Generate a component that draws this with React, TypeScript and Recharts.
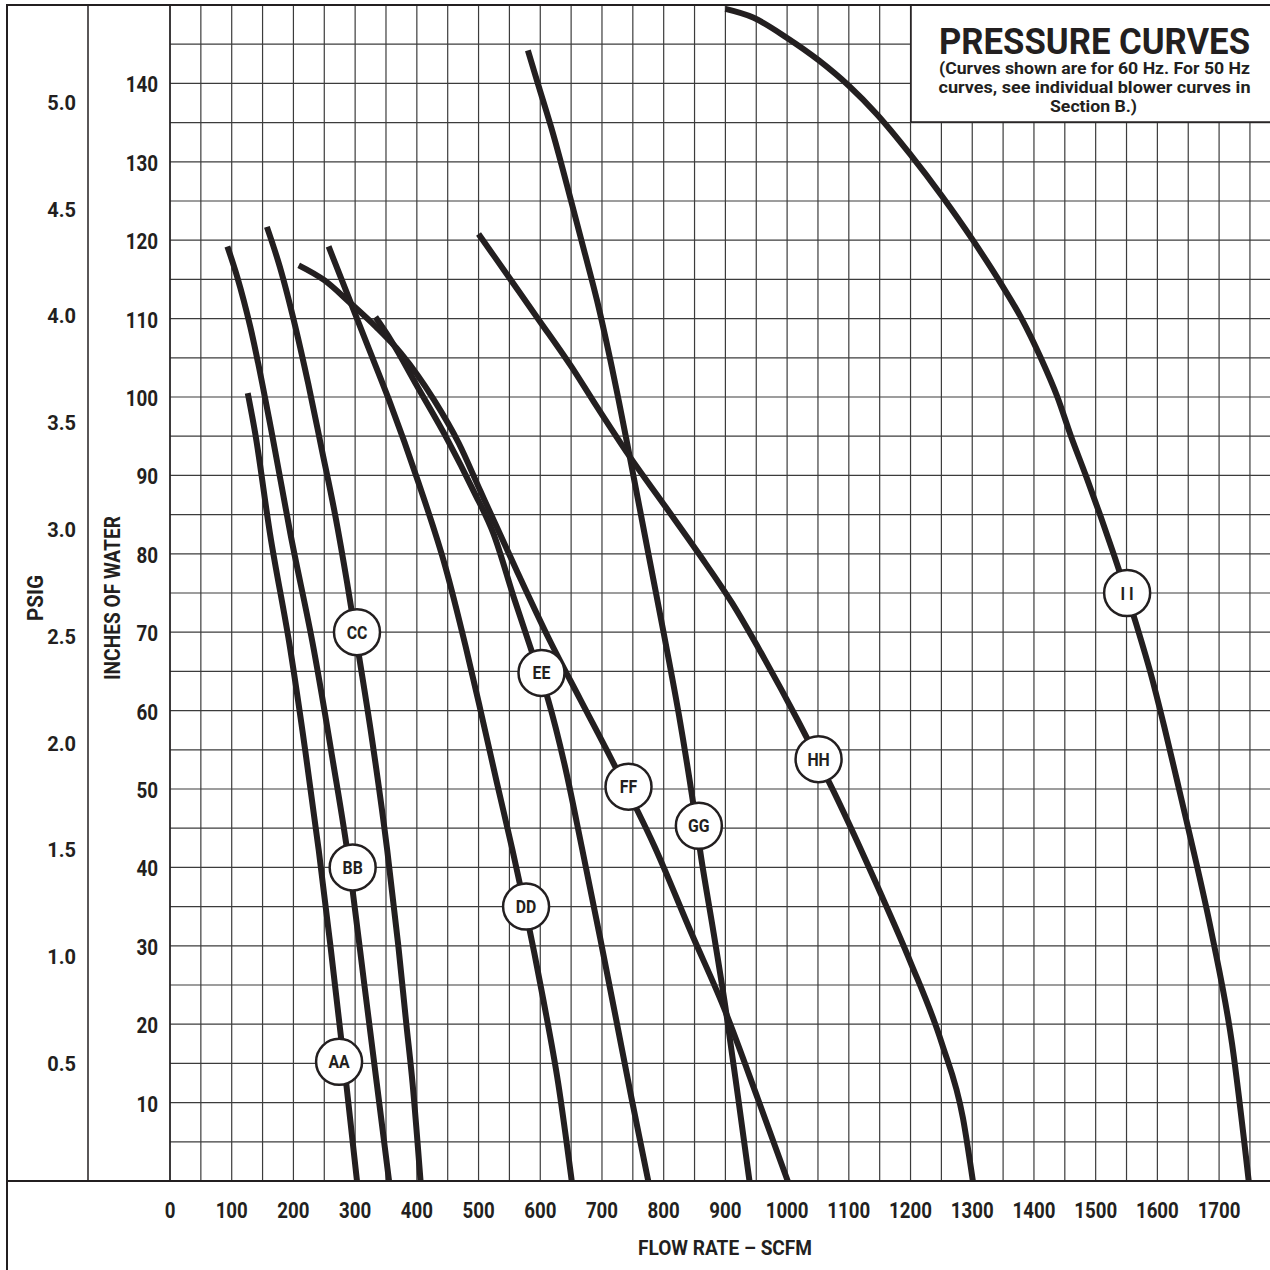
import React from 'react';
import { LineChart, Line, XAxis, YAxis, ReferenceLine, ReferenceDot } from 'recharts';

// axis ticks and grid
const FLOW_TICKS = [0, 100, 200, 300, 400, 500, 600, 700, 800, 900, 1000, 1100, 1200, 1300, 1400, 1500, 1600, 1700];
const INCH_TICKS = [10, 20, 30, 40, 50, 60, 70, 80, 90, 100, 110, 120, 130, 140];
const PSIG_TICKS = [0.5, 1.0, 1.5, 2.0, 2.5, 3.0, 3.5, 4.0, 4.5, 5.0];
const FLOW_GRID = [0, 50, 100, 150, 200, 250, 300, 350, 400, 450, 500, 550, 600, 650, 700, 750, 800, 850, 900,
  950, 1000, 1050, 1100, 1150, 1200, 1250, 1300, 1350, 1400, 1450, 1500, 1550, 1600, 1650, 1700, 1750];
const INCH_GRID = [5, 10, 15, 20, 25, 30, 35, 40, 45, 50, 55, 60, 65, 70, 75, 80, 85, 90, 95, 100,
  105, 110, 115, 120, 125, 130, 135, 140, 145, 150];

// blower curves: flow (SCFM) vs pressure (inches of water)
const AA_FLOW = [126, 138, 162, 195, 219, 241, 260, 282, 303];
const AA_INCH = [100.5, 95.4, 82.6, 67.8, 55, 42.2, 30, 15, 0];

const BB_FLOW = [93, 109, 130, 165, 195, 233, 263, 291, 296, 315, 335, 355];
const BB_INCH = [119.2, 115.3, 109, 95.4, 82.6, 67.8, 54, 40, 37, 25, 12.5, 0];

const CC_FLOW = [157, 178, 203, 224, 246, 268, 287, 300, 328, 352, 370, 383, 393, 406];
const CC_INCH = [121.7, 116.6, 109, 101.7, 93.3, 84.8, 76.3, 70, 56, 42.2, 30, 20, 12.5, 0];

const DD_FLOW = [257, 293, 319, 355, 403, 446, 479, 503, 530, 555, 575, 605, 629, 651];
const DD_INCH = [119.2, 112, 106.8, 99.6, 89, 78.4, 68.2, 60.1, 50.7, 42.2, 35, 23.1, 12.5, 0];

const EE_FLOW = [333, 357.5, 401, 450, 492, 524, 558.5, 585.6, 612.7, 640, 667, 697, 722, 748, 775];
const EE_INCH = [110.2, 107.3, 101.3, 94.5, 88, 82.6, 74.1, 67.7, 61.4, 52.9, 42.7, 31, 21, 10.5, 0];

const FF_FLOW = [208.6, 250, 292, 333, 374, 428, 468, 503, 561, 615, 665, 716, 785, 845, 897, 953, 1001];
const FF_INCH = [116.8, 114.9, 112, 109, 105.6, 99.6, 94.1, 88, 78, 69, 61.4, 53.7, 42.7, 31.6, 22.2, 10.4, 0];

const GG_FLOW = [580, 596, 621, 650, 671, 692, 716, 727, 745, 774, 800, 825, 847, 861, 881, 900, 921, 939];
const GG_INCH = [144.2, 140, 133.5, 125, 118.7, 112.3, 103.8, 99.6, 92.4, 80.5, 69.9, 59.3, 48.6, 41.1, 31.6, 22.2, 10.4, 0];

const HH_FLOW = [500, 549, 598, 651, 685, 745, 803, 857, 911, 964, 1017, 1049, 1076, 1148, 1200, 1251, 1285, 1301];
const HH_INCH = [120.8, 115.3, 109.8, 103.8, 99.6, 92.4, 86, 80, 73.7, 66.5, 58.8, 53.9, 49.6, 37.3, 27.9, 17.5, 8, 0];

const II_FLOW = [900, 945, 1000, 1052, 1100, 1145, 1199, 1252, 1301, 1347, 1380, 1411, 1438, 1460, 1484,
  1507, 1529, 1550, 1567, 1589, 1611, 1633, 1647, 1688, 1721, 1748];
const II_INCH = [149.5, 148.4, 145.8, 142.9, 139.7, 136.1, 131, 125.5, 120, 114.4, 110, 105, 100, 95, 90,
  85, 80, 75, 70.7, 64.8, 58, 50.7, 46, 31.6, 17.5, 0];

// circled curve tags
const TAG_NAMES = ['AA', 'BB', 'CC', 'DD', 'EE', 'FF', 'GG', 'HH', 'I I'];
const TAG_FLOW = [274, 296, 303, 577, 602, 743, 857, 1051, 1551];
const TAG_INCH = [15.2, 40, 70, 35, 64.8, 50.3, 45.3, 53.8, 75];

const CURVES = [
  [AA_FLOW, AA_INCH], [BB_FLOW, BB_INCH], [CC_FLOW, CC_INCH], [DD_FLOW, DD_INCH], [EE_FLOW, EE_INCH],
  [FF_FLOW, FF_INCH], [GG_FLOW, GG_INCH], [HH_FLOW, HH_INCH], [II_FLOW, II_INCH],
].map(([flow, inch]) => flow.map((f, i) => ({ flow: f, inch: inch[i] })));

const INK = '#231f20';
const GRID = '#3c3c3c';
const FONT = "Roboto, 'Liberation Sans', Arial, sans-serif";
const X_MAX = 1782.5;
const PSI_DOMAIN: [number, number] = [-0.0478, 5.458];

// condensed look: squeeze glyphs horizontally around the anchor point
const NarrowText = ({ x, y, size, sx, anchor, children }: any) => (
  <text
    transform={`translate(${x},${y}) scale(${sx},1)`}
    textAnchor={anchor}
    style={{ fontFamily: FONT, fontSize: size, fontWeight: 700, fill: INK }}
  >
    {children}
  </text>
);

const FlowTick = ({ x, y, payload }: any) => (
  <NarrowText x={x} y={y + 15.8} size={22} sx={0.85} anchor="middle">{payload.value}</NarrowText>
);
const InchTick = ({ x, y, payload }: any) => (
  <NarrowText x={x} y={y + 9} size={21.5} sx={0.875} anchor="end">{payload.value}</NarrowText>
);
const PsiTick = ({ x, y, payload }: any) => (
  <NarrowText x={x} y={y + 7} size={20} sx={1} anchor="end">{Number(payload.value).toFixed(1)}</NarrowText>
);

const tagShape = (name: string) => (p: any) => (
  <g>
    <circle cx={p.cx} cy={p.cy} r={23} fill="#fff" stroke={INK} strokeWidth={2.5} />
    <NarrowText x={p.cx} y={p.cy + 6.5} size={18} sx={0.88} anchor="middle">{name}</NarrowText>
  </g>
);

const App = () => {
  return (
    <div style={{ position: 'absolute', left: 0, top: 0, width: 1270, height: 1270, overflow: 'hidden', background: '#fff' }}>
      <LineChart width={1270} height={1270} margin={{ top: 5, right: 0, bottom: 0, left: 7 }}>
        <XAxis
          dataKey="flow"
          type="number"
          domain={[0, X_MAX]}
          ticks={FLOW_TICKS}
          allowDataOverflow
          height={89}
          tickSize={0}
          tickMargin={21}
          axisLine={false}
          tick={<FlowTick />}
        />
        <YAxis
          yAxisId="in"
          type="number"
          domain={[0, 150]}
          ticks={INCH_TICKS}
          allowDataOverflow
          width={82}
          tickSize={0}
          tickMargin={12}
          axisLine={{ stroke: INK, strokeWidth: 1.5 }}
          tick={<InchTick />}
        />
        <YAxis
          yAxisId="psi"
          type="number"
          domain={PSI_DOMAIN}
          ticks={PSIG_TICKS}
          allowDataOverflow
          width={81}
          tickSize={0}
          tickMargin={12}
          axisLine={{ stroke: INK, strokeWidth: 1.5 }}
          tick={<PsiTick />}
        />

        {FLOW_GRID.map((v) => (
          <ReferenceLine key={`vx-${v}`} x={v} yAxisId="in" stroke={GRID} strokeWidth={1.2} />
        ))}
        {INCH_GRID.map((v) => (
          <ReferenceLine key={`hy-${v}`} y={v} yAxisId="in" stroke={GRID} strokeWidth={1.2} />
        ))}

        {CURVES.map((data, i) => (
          <Line
            key={TAG_NAMES[i]}
            data={data}
            dataKey="inch"
            yAxisId="in"
            type="monotone"
            stroke={INK}
            strokeWidth={6}
            dot={false}
            activeDot={false}
            isAnimationActive={false}
          />
        ))}

        {TAG_NAMES.map((name, i) => (
          <ReferenceDot
            key={`tag-${name}`}
            x={TAG_FLOW[i]}
            y={TAG_INCH[i]}
            yAxisId="in"
            r={23}
            shape={tagShape(name)}
          />
        ))}
      </LineChart>

      <svg width={1270} height={1270} style={{ position: 'absolute', left: 0, top: 0, pointerEvents: 'none' }}>
        {/* title panel covers the grid in the top-right corner */}
        <rect x={911} y={5} width={380} height={117} fill="#fff" stroke={INK} strokeWidth={1.5} />
        <path d="M7,1270 V5 H1270" fill="none" stroke={INK} strokeWidth={2} />
        <path d="M7,1181 H1270" fill="none" stroke={INK} strokeWidth={2} />
        <g style={{ fontFamily: FONT, fontWeight: 700, fill: INK }}>
          <text x={1094.5} y={54} textAnchor="middle" fontSize={37} textLength={311} lengthAdjust="spacingAndGlyphs">PRESSURE CURVES</text>
          <text x={1094.5} y={74} textAnchor="middle" fontSize={16.5} textLength={311} lengthAdjust="spacingAndGlyphs">(Curves shown are for 60 Hz. For 50 Hz</text>
          <text x={1094.5} y={92.5} textAnchor="middle" fontSize={16.5} textLength={312} lengthAdjust="spacingAndGlyphs">curves, see individual blower curves in</text>
          <text x={1093.5} y={111.5} textAnchor="middle" fontSize={16.5} textLength={87} lengthAdjust="spacingAndGlyphs">Section B.)</text>
          <text x={725} y={1255} textAnchor="middle" fontSize={21} textLength={174} lengthAdjust="spacingAndGlyphs">FLOW RATE – SCFM</text>
          <text x={35} y={598} textAnchor="middle" dominantBaseline="central" fontSize={22} textLength={46} lengthAdjust="spacingAndGlyphs" transform="rotate(-90 35 598)">PSIG</text>
          <text x={112} y={598} textAnchor="middle" dominantBaseline="central" fontSize={22} textLength={164} lengthAdjust="spacingAndGlyphs" transform="rotate(-90 112 598)">INCHES OF WATER</text>
        </g>
      </svg>
    </div>
  );
};

export default App;
